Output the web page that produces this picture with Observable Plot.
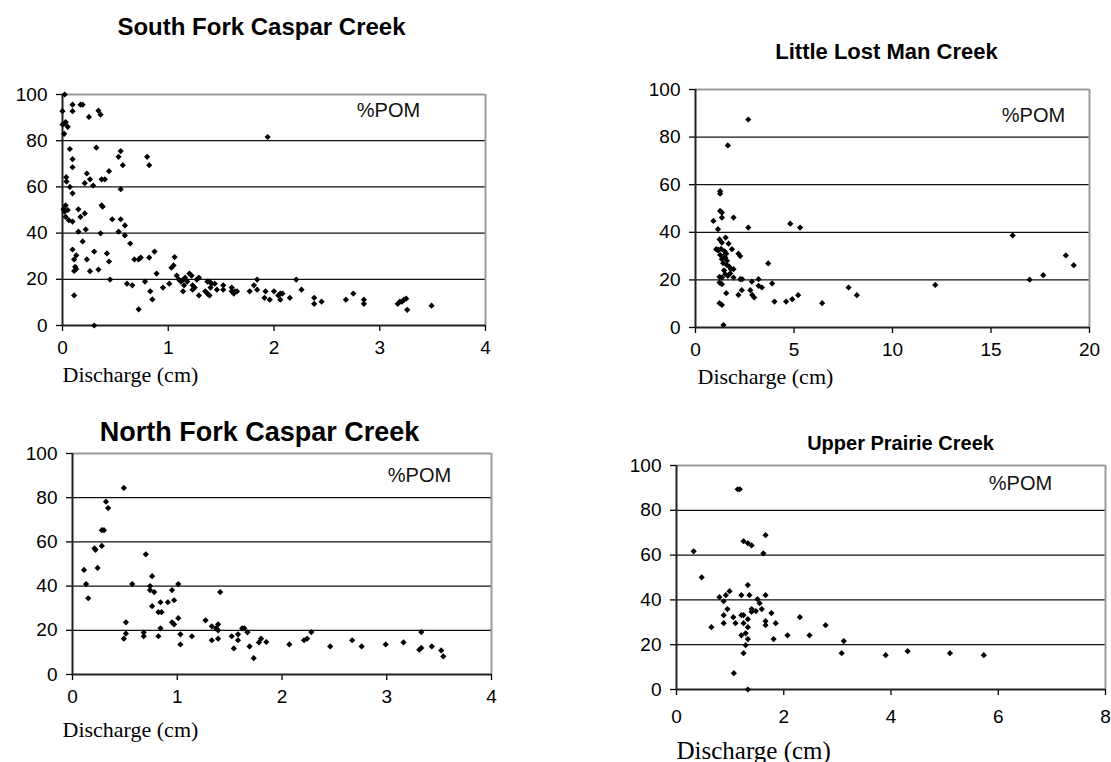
<!DOCTYPE html>
<html>
<head>
<meta charset="utf-8">
<script src="https://cdn.jsdelivr.net/npm/d3@7"></script>
<script src="https://cdn.jsdelivr.net/npm/@observablehq/plot@0.6"></script>
<style>
  html, body { margin: 0; padding: 0; background: #fff; }
  #root { position: relative; width: 1111px; height: 762px; overflow: hidden; background: #fff; }
  #root svg { position: absolute; background: transparent; overflow: visible; }
</style>
</head>
<body>
<div id="root"></div>
<script>
// ---------- data ----------
const yTicks = [0, 20, 40, 60, 80, 100];
const gridTicks = [20, 40, 60, 80];

// South Fork Caspar Creek
const sfTitle = "South Fork Caspar Creek";
const sfXTicks = [0, 1, 2, 3, 4];
const sfX = [0.02,0.00,0.095,0.095,0.17,0.19,0.25,0.34,0.36,0.00,0.02,0.03,0.05,0.016,0.07,0.095,0.095,0.32,0.53,0.55,0.57,0.80,0.82,
  0.035,0.038,0.07,0.095,0.23,0.21,0.26,0.29,0.37,0.40,0.44,0.55,0.03,0.02,0.05,0.01,0.03,0.06,0.095,0.15,0.17,0.21,0.37,0.38,0.47,0.55,0.59,
  0.53,0.59,0.15,0.22,0.36,0.19,0.64,0.095,0.13,0.11,0.30,0.42,0.44,0.23,0.12,0.11,0.13,0.26,0.34,0.45,0.68,0.72,0.74,0.82,0.87,0.89,
  0.61,0.66,0.78,0.83,0.85,0.72,0.11,0.30,0.95,1.01,1.03,1.05,1.06,1.08,1.10,1.12,1.14,1.16,1.14,1.15,1.18,1.20,1.22,1.23,1.25,1.27,1.29,
  1.23,1.35,1.37,1.39,1.40,1.41,1.29,1.37,1.39,1.44,1.46,1.52,1.52,1.60,1.60,1.62,1.63,1.65,1.77,1.81,1.84,1.84,
  1.94,1.91,1.92,1.96,2.00,2.06,2.06,2.08,2.04,2.15,2.21,2.26,2.38,2.38,2.45,2.68,2.75,2.85,2.85,3.17,3.19,3.21,3.23,3.25,3.26,3.49];
const sfY = [100,92.8,95.6,92.8,95.6,95.6,90.3,93,91.3,87,87.4,88,86,83,76.4,72,68.5,77,73,75.5,69.4,73,69.4,
  64.2,62.3,60,57.2,65.8,61.6,63.3,60.6,63.3,63.3,66.8,59,52,49.3,50,50.3,47,45.6,45,50.3,47,48.5,52,51.4,46,46,43.3,
  40.6,39,40.6,41.6,39.9,36.4,35.5,32.9,30.4,28.6,32,31.2,27.7,28.6,25.4,23.6,24.5,23.5,24.2,19.9,28.6,28.6,29.4,29.4,32,22.5,
  18.1,17.4,19,14.8,11.3,7,13,0,16.4,18.1,25,26,29.6,21.6,19.9,19,19.9,20.7,14.8,17.4,19,22.5,21.6,15.5,16.4,19.9,20.7,
  17.4,14.8,19,19,16.4,18.1,13,13.8,13,18.1,15.5,17.4,15.5,16.4,14.8,13.8,14.8,14.8,14.8,17.4,19.9,15.5,
  81.6,12,14.8,11.2,14.8,13.8,11.2,13.8,13,12,19.9,15.5,12,9.4,10.3,11.2,13.8,11.2,9.4,9.4,10.3,10.3,11.2,11.6,6.8,8.6];

// Little Lost Man Creek
const llTitle = "Little Lost Man Creek";
const llXTicks = [0, 5, 10, 15, 20];
const llX = [2.68,1.64,1.25,1.25,1.25,1.34,1.34,0.91,1.14,1.93,2.68,4.81,5.31,
  1.22,1.53,1.34,1.68,1.05,1.17,1.85,1.25,1.42,1.56,1.34,1.51,2.18,2.27,3.69,
  1.59,1.71,1.93,1.80,1.51,1.64,1.76,1.22,1.34,1.93,2.27,2.37,1.22,1.34,2.86,3.20,3.20,3.37,3.89,2.35,2.18,1.56,
  2.78,2.88,2.98,1.22,1.34,4.01,4.60,4.91,5.21,6.43,7.77,8.19,1.42,
  1.30,1.40,1.45,1.60,1.12,1.48,
  12.17,16.1,16.96,17.65,18.8,19.2];
const llY = [87.4,76.5,57.3,56.2,49,48.3,46.2,44.8,41.3,46.2,42,43.6,42,
  37,37.8,35.7,35.2,32.9,32.6,32.9,30.5,30,31,28.7,29.4,31,30,26.9,
  26.3,25.6,24.5,24.5,22.4,21.7,22.7,21.3,21,21,20.3,20.3,18.9,18.2,19.3,20.3,17.5,16.8,18.5,15.7,13.7,14.4,
  15.7,13.7,12.6,10.2,9.5,10.9,10.9,11.9,13.6,10.2,16.8,13.6,1,
  33,27,24,28,32.5,32,
  17.9,38.7,20.1,22,30.3,26.2];

// North Fork Caspar Creek
const nfTitle = "North Fork Caspar Creek";
const nfXTicks = [0, 1, 2, 3, 4];
const nfX = [0.49,0.32,0.34,0.28,0.30,0.21,0.22,0.28,0.11,0.24,0.13,0.15,0.70,0.57,0.76,0.74,0.74,0.78,0.76,0.84,0.91,0.82,0.85,
  0.95,1.01,0.97,1.01,0.95,0.97,0.84,0.51,0.51,0.49,0.68,0.68,0.82,1.03,1.03,1.14,1.41,1.27,1.33,1.37,1.39,1.39,1.33,1.39,
  1.52,1.58,1.58,1.54,1.62,1.64,1.67,1.69,1.78,1.73,1.80,1.85,2.07,2.21,2.24,2.28,2.46,2.67,2.76,2.99,3.16,3.33,3.31,3.33,3.43,3.52,3.54];
const nfY = [84.4,78.2,75.3,65.3,65.3,57.1,56.4,58.2,47.3,48.2,40.9,34.5,54.4,40.9,44.5,40,38.2,37.3,30.9,32.7,32.7,28.2,28.2,
  38.2,40.9,33.6,25.5,23.6,22.7,20.9,23.6,18.5,16.2,19,17.3,17.3,18.2,13.6,17.3,37.3,24.5,21.8,20.9,22.7,20,15.5,16.2,
  17.3,18.2,15.5,11.8,20.9,20.9,19.1,12.7,14.5,7.4,16.2,14.7,13.6,15.5,16.2,19.2,12.7,15.5,12.7,13.6,14.5,19.2,11.2,12,12.7,10.9,8.2];

// Upper Prairie Creek
const upTitle = "Upper Prairie Creek";
const upXTicks = [0, 2, 4, 6, 8];
const upX = [1.14,1.18,1.25,1.33,1.40,1.66,1.62,0.32,0.47,1.33,0.99,0.92,0.80,0.88,1.21,1.36,1.66,1.51,1.55,0.95,1.40,1.48,1.59,1.40,
  0.88,1.06,1.21,1.25,1.77,1.33,1.66,1.66,1.85,0.88,1.10,1.25,0.65,1.33,2.30,2.78,1.29,1.21,2.07,2.48,1.81,1.33,1.29,1.25,
  3.12,3.08,1.07,1.33,3.90,4.31,5.10,5.73];
const upY = [89.4,89.4,66.2,65.3,64.3,68.9,60.8,61.7,50.1,46.6,43.9,42.1,41.2,39.4,42.1,42.1,42.1,40.3,38.5,35.9,35.9,35,35.9,34.7,
  33.2,32.3,33.2,33.2,34.1,31.4,30.5,28.7,29.6,29.6,29.6,29.6,27.8,27.8,32.3,28.7,25.1,24.2,24.2,24.2,22.5,22.5,19.8,16.2,
  21.6,16.2,7.3,0,15.3,17.1,16.2,15.3];

const seriesLabel = "%POM";
const xAxisLabel = "Discharge (cm)";

// ---------- drawing ----------
function panel(cfg) {
  const data = cfg.xs.map((x, i) => ({x, y: cfg.ys[i]}));
  const xmax = cfg.xTicks[cfg.xTicks.length - 1];
  const fl = cfg.frame[0], ft = cfg.frame[1];
  const svg = Plot.plot({
    width: cfg.w, height: cfg.h,
    marginLeft: fl - cfg.left, marginRight: cfg.left + cfg.w - cfg.frame[2],
    marginTop: ft - cfg.top, marginBottom: cfg.top + cfg.h - cfg.frame[3],
    x: {domain: [0, xmax]},
    y: {domain: [0, 100]},
    style: {fontFamily: "'Liberation Sans', Arial, sans-serif", fontSize: "19px", color: "#000", background: "transparent", overflow: "visible"},
    marks: [
      Plot.ruleY(gridTicks, {stroke: "#111", strokeWidth: 1.3}),
      Plot.ruleY([100], {stroke: "#9a9a9a", strokeWidth: 2}),
      Plot.ruleX([xmax], {stroke: "#9a9a9a", strokeWidth: 2}),
      Plot.axisY(yTicks, {tickSize: 6, tickPadding: 9, label: null, fontSize: 19, strokeWidth: 1.3}),
      Plot.axisX(cfg.xTicks, {tickSize: 6, tickPadding: cfg.xPad, label: null, fontSize: 19, strokeWidth: 1.3}),
      Plot.ruleX([0], {stroke: "#222", strokeWidth: 2}),
      Plot.ruleY([0], {stroke: "#222", strokeWidth: 2}),
      Plot.dot(data, {x: "x", y: "y", symbol: "diamond2", r: 2.8, fill: "#000", stroke: "none"}),
      Plot.text([seriesLabel], {frameAnchor: "top-left", dx: cfg.pom[0] - fl, dy: cfg.pom[1] - ft, textAnchor: "middle", lineAnchor: "middle", fontSize: 20, fill: "#111"}),
      Plot.text([cfg.title], {frameAnchor: "top-left", dx: cfg.titlePos[0] - fl, dy: cfg.titlePos[1] - ft, textAnchor: "middle", lineAnchor: "bottom", fontSize: cfg.titleSize, fontWeight: "bold", letterSpacing: cfg.titleSpacing || 0}),
      Plot.text([xAxisLabel], {frameAnchor: "top-left", dx: cfg.xl[0] - fl, dy: cfg.xl[1] - ft, textAnchor: "start", lineAnchor: "middle", fontSize: cfg.xlSize, fontFamily: "'Liberation Serif', 'Times New Roman', serif"})
    ]
  });
  svg.style.left = cfg.left + "px";
  svg.style.top = cfg.top + "px";
  document.getElementById("root").appendChild(svg);
}

panel({title: sfTitle, xs: sfX, ys: sfY, xTicks: sfXTicks,
  left: 0, top: 0, w: 520, h: 400, frame: [62, 94, 485, 325], xPad: 9,
  pom: [388, 110], titlePos: [261, 34], titleSize: 24, titleSpacing: 1.2, xl: [62, 374], xlSize: 22});
panel({title: llTitle, xs: llX, ys: llY, xTicks: llXTicks,
  left: 560, top: 0, w: 551, h: 400, frame: [695, 89, 1089, 327], xPad: 9,
  pom: [1033, 115], titlePos: [886, 58], titleSize: 22, titleSpacing: 0.8, xl: [697, 376], xlSize: 22});
panel({title: nfTitle, xs: nfX, ys: nfY, xTicks: nfXTicks,
  left: 0, top: 381, w: 520, h: 381, frame: [72, 453, 491, 674], xPad: 9,
  pom: [419, 475], titlePos: [259, 440], titleSize: 27, titleSpacing: 0.8, xl: [62, 729], xlSize: 22});
panel({title: upTitle, xs: upX, ys: upY, xTicks: upXTicks,
  left: 560, top: 381, w: 551, h: 381, frame: [676, 465, 1105, 689], xPad: 14,
  pom: [1020, 483], titlePos: [900, 449], titleSize: 20, titleSpacing: 0.5, xl: [676, 750], xlSize: 25});
</script>
</body>
</html>
